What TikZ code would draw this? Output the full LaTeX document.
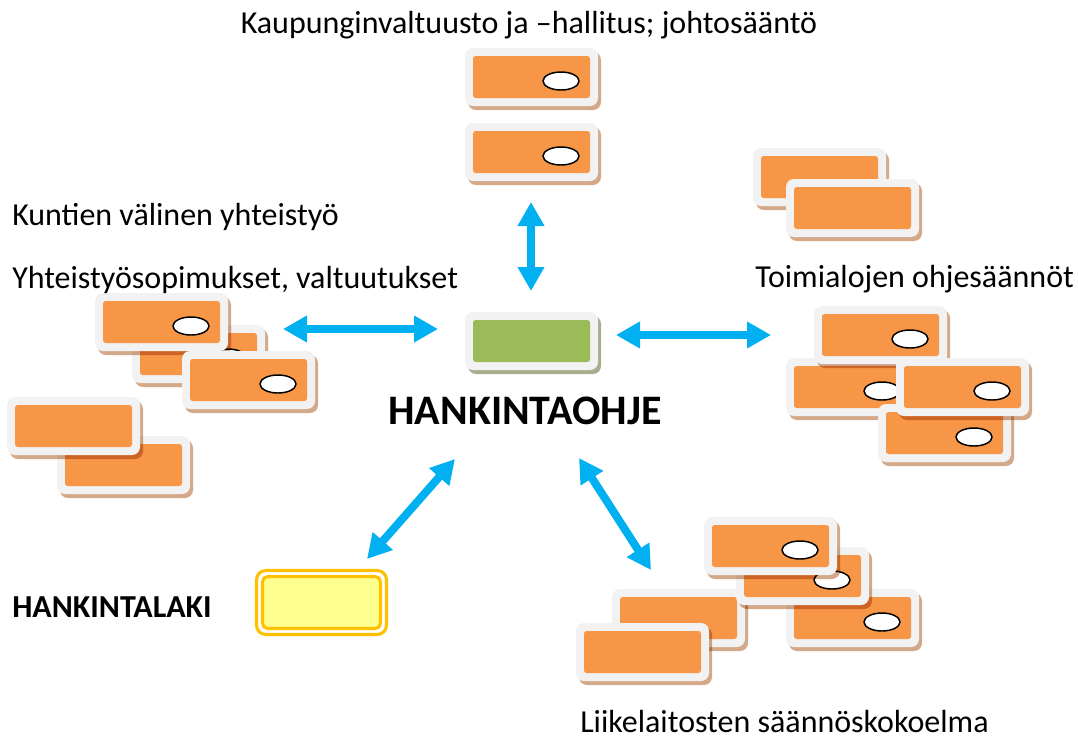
\documentclass[tikz,border=0pt]{standalone}
\usepackage{fontspec}
\setmainfont{Carlito}
\usetikzlibrary{arrows.meta}

\definecolor{oranssi}{HTML}{F79646}
\definecolor{vihrea}{HTML}{9BBB59}
\definecolor{kehys}{HTML}{F2F2F2}
\definecolor{varjo}{HTML}{D4A98A}
\definecolor{vihreavarjo}{HTML}{A7AE8E}
\definecolor{nuoli}{HTML}{00B0F0}
\definecolor{kulta}{HTML}{FFC000}
\definecolor{keltainen}{HTML}{FFFF8F}

\tikzset{
	kortinvari/.store in=\kortinvari, kortinvari=oranssi,
	kortinvarjo/.store in=\kortinvarjo, kortinvarjo=varjo,
	kortti/.pic={
		\begin{scope}[blend mode=multiply]
			\fill[\kortinvarjo, rounded corners=6pt] (3,4) rectangle (136,62);
		\end{scope}
		\fill[kehys, rounded corners=6pt] (0,0) rectangle (133,58);
		\fill[\kortinvari, rounded corners=2pt] (8,8) rectangle (125,50);
	},
	reikakortti/.pic={
		\pic {kortti};
		\draw[line width=1.1pt, fill=white] (96,33) ellipse [x radius=18, y radius=9];
	},
	teksti/.style={font=\fontsize{24}{28}\selectfont, inner sep=0pt},
	otsikko/.style={font=\fontsize{31.5}{36}\selectfont\bfseries, inner sep=0pt},
	yhteys/.style={nuoli, line width=6pt, {Triangle[width=19pt,length=18pt]}-{Triangle[width=19pt,length=18pt]}},
}

\begin{document}
\begin{tikzpicture}[x=0.75pt, y=-0.75pt]
	\useasboundingbox (0,0) rectangle (1078,744);

	% Kaupunginvaltuusto
	\pic at (465,48) {reikakortti};
	\pic at (465,123) {reikakortti};

	% Toimialat
	\pic at (753,148) {kortti};
	\pic at (786,179) {kortti};
	\pic at (786,358) {reikakortti};
	\pic at (814,306) {reikakortti};
	\pic at (878,404) {reikakortti};
	\pic at (896,358) {reikakortti};

	% Kuntien valinen yhteistyo
	\pic at (132,325) {reikakortti};
	\pic at (95,293) {reikakortti};
	\pic at (182,351) {reikakortti};
	\pic at (57,436) {kortti};
	\pic at (7,397) {kortti};

	% Liikelaitokset
	\pic at (612,589) {kortti};
	\pic at (786,589) {reikakortti};
	\pic at (736,547) {reikakortti};
	\pic at (704,517) {reikakortti};
	\pic at (576,623) {kortti};

	% Hankintaohje
	\pic[kortinvari=vihrea, kortinvarjo=vihreavarjo] at (465,312) {kortti};

	% Hankintalaki
	\draw[kulta, line width=2.3pt, fill=white, rounded corners=7pt] (256.5,570.5) rectangle (386.5,634.5);
	\draw[kulta, line width=2.3pt, fill=keltainen, rounded corners=4pt] (262.5,576.5) rectangle (380.5,628.5);

	% Tekstit
	\node[teksti, anchor=base] (valtuusto) at (529,33) {Kaupunginvaltuusto ja –hallitus; johtosääntö};
	\node[teksti, anchor=base west] (kunnat) at (12,225) {Kuntien välinen yhteistyö};
	\node[teksti, anchor=base west] (sopimukset) at (12,288) {Yhteistyösopimukset, valtuutukset};
	\node[teksti, anchor=base west] (toimialat) at (755,287) {Toimialojen ohjesäännöt};
	\node[otsikko, anchor=base] (ohje) at (525,424) {HANKINTAOHJE};
	\node[teksti, font=\fontsize{24}{28}\selectfont\bfseries, anchor=base west] (laki) at (12,617) {HANKINTALAKI};
	\node[teksti, anchor=base west] (liikelaitokset) at (580,732) {Liikelaitosten säännöskokoelma};

	% Nuolet
	\coordinate (ylos1) at (531,202);
	\coordinate (ylos2) at (531,291);
	\coordinate (vasen1) at (283,329);
	\coordinate (vasen2) at (438,329);
	\coordinate (oikea1) at (616,335);
	\coordinate (oikea2) at (771,335);
	\coordinate (laki1) at (455,459);
	\coordinate (laki2) at (367,559);
	\coordinate (liike1) at (579,458);
	\coordinate (liike2) at (651,570);

	\draw[yhteys] (ylos1) -- (ylos2);
	\draw[yhteys] (vasen1) -- (vasen2);
	\draw[yhteys] (oikea1) -- (oikea2);
	\draw[yhteys] (laki1) -- (laki2);
	\draw[yhteys] (liike1) -- (liike2);

\end{tikzpicture}
\end{document}
